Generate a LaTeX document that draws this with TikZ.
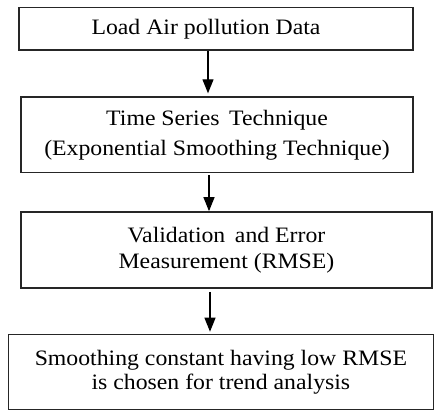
\documentclass[tikz,border=0pt]{standalone}
\usepackage{fontspec}
\setmainfont{Liberation Serif}[FakeStretch=1.08]
\usetikzlibrary{arrows.meta,positioning}
\begin{document}
\begin{tikzpicture}[x=1pt,y=-1pt,
  boxnode/.style={draw=black!85, line width=1.4pt, rectangle, inner sep=0pt, align=center,
    font=\fontsize{22}{26}\selectfont, text=black},
  arr/.style={draw=black, line width=1.2pt, -{Triangle[width=11pt,length=14pt]}}]
\useasboundingbox (0,0) rectangle (434,410);
\node[boxnode, minimum width=394pt, minimum height=42.5pt] (b1) at (216,28.8) {\hspace*{-20pt}Load Air pollution Data};
\node[boxnode, minimum width=392pt, minimum height=75.6pt, font=\fontsize{22}{30}\selectfont] (b2) at (217,134.8) {Time Series\, Technique\\(Exponential Smoothing Technique)};
\node[boxnode, minimum width=410.7pt, minimum height=76.3pt] (b3) at (226.5,250) {Validation\, and Error\\Measurement (RMSE)};
\node[boxnode, minimum width=425pt, minimum height=75pt, font=\fontsize{22}{24}\selectfont] (b4) at (220.9,371.9) {Smoothing constant having low RMSE\\is chosen for trend analysis};
\coordinate (x1) at (208,0);
\coordinate (x2) at (209,0);
\coordinate (x3) at (210,0);
\draw[arr, shorten >=3pt] (b1.south -| x1) -- (b2.north -| x1);
\draw[arr, shorten <=2pt] (b2.south -| x2) -- (b3.north -| x2);
\draw[arr, shorten <=3pt, shorten >=2pt] (b3.south -| x3) -- (b4.north -| x3);
\end{tikzpicture}
\end{document}
